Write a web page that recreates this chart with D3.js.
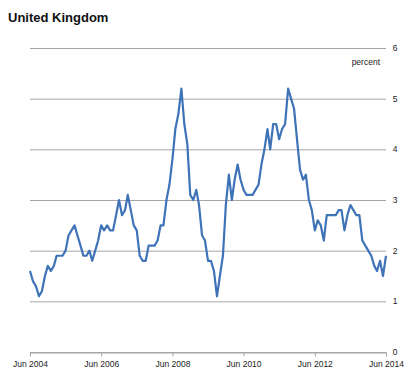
<!DOCTYPE html>
<html><head><meta charset="utf-8">
<script src="https://cdn.jsdelivr.net/npm/d3@7"></script>
<style>body{margin:0;background:#fff}svg{display:block}</style>
</head><body>
<svg id="chart" width="409" height="378"></svg>
<script>
const title = "United Kingdom";
const unitLabel = "percent";
const startYear = 2004, startMonth = 5; // Jun 2004 (0-based month)
const values = [
  1.6,1.4,1.3,1.1,1.2,1.5,1.7,
  1.6,1.7,1.9,1.9,1.9,2.0,2.3,2.4,2.5,2.3,2.1,1.9,
  1.9,2.0,1.8,2.0,2.2,2.5,2.4,2.5,2.4,2.4,2.7,3.0,
  2.7,2.8,3.1,2.8,2.5,2.4,1.9,1.8,1.8,2.1,2.1,2.1,
  2.2,2.5,2.5,3.0,3.3,3.8,4.4,4.7,5.2,4.5,4.1,3.1,
  3.0,3.2,2.9,2.3,2.2,1.8,1.8,1.6,1.1,1.5,1.9,2.9,
  3.5,3.0,3.4,3.7,3.4,3.2,3.1,3.1,3.1,3.2,3.3,3.7,
  4.0,4.4,4.0,4.5,4.5,4.2,4.4,4.5,5.2,5.0,4.8,4.2,
  3.6,3.4,3.5,3.0,2.8,2.4,2.6,2.5,2.2,2.7,2.7,2.7,
  2.7,2.8,2.8,2.4,2.7,2.9,2.8,2.7,2.7,2.2,2.1,2.0,
  1.9,1.7,1.6,1.8,1.5,1.9
];
const xTickLabels = ["Jun 2004","Jun 2006","Jun 2008","Jun 2010","Jun 2012","Jun 2014"];
const yTicks = [0,1,2,3,4,5,6];

(function(){
const data = values.map((v,i)=>({date:new Date(startYear, startMonth+i, 1), value:v}));
const svg = d3.select("#chart");
const mLeft = 30, mRight = 386, mTop = 48, mBottom = 352;
const font = "Liberation Sans, Arial, sans-serif";

const x = d3.scaleTime()
  .domain([new Date(2004,5,1), new Date(2014,5,1)])
  .range([mLeft, mRight]);
const y = d3.scaleLinear().domain([0,6]).range([mBottom, mTop]);

svg.append("text").attr("x",8).attr("y",22)
  .attr("font-family",font)
  .attr("font-weight","bold").attr("font-size",13).attr("fill","#111")
  .text(title);

// gridlines
svg.append("g").selectAll("line").data(yTicks).join("line")
  .attr("x1",mLeft).attr("x2",mRight)
  .attr("y1",d=>y(d)+0.5).attr("y2",d=>y(d)+0.5)
  .attr("stroke","#a6a6a6").attr("stroke-width",1);

// right y labels
svg.append("g").selectAll("text").data(yTicks).join("text")
  .attr("x",395).attr("y",d=>y(d)+3)
  .attr("text-anchor","middle")
  .attr("font-family",font)
  .attr("font-size",8.5).attr("fill","#222")
  .text(d=>d);

svg.append("text").attr("x",380).attr("y",65)
  .attr("text-anchor","end")
  .attr("font-family",font)
  .attr("font-size",8.5).attr("fill","#222")
  .text(unitLabel);

// x axis ticks
const tickDates = xTickLabels.map((s,i)=>new Date(2004+2*i,5,1));
const xAxis = d3.axisBottom(x).tickValues(tickDates)
  .tickFormat((d,i)=>xTickLabels[i]).tickSize(4).tickSizeOuter(0);
const gx = svg.append("g").attr("transform",`translate(0,${mBottom+0.5})`).call(xAxis);
gx.select(".domain").attr("stroke","#a6a6a6");
gx.selectAll(".tick line").attr("stroke","#a6a6a6");
gx.selectAll(".tick text")
  .attr("font-family",font)
  .attr("font-size",8.5).attr("fill","#222").attr("dy","0.9em");

// line
const line = d3.line().x(d=>x(d.date)).y(d=>y(d.value));
svg.append("path").datum(data)
  .attr("d",line).attr("fill","none")
  .attr("stroke","#3f73b8").attr("stroke-width",2.2)
  .attr("stroke-linejoin","round");
})();
</script>
</body></html>
